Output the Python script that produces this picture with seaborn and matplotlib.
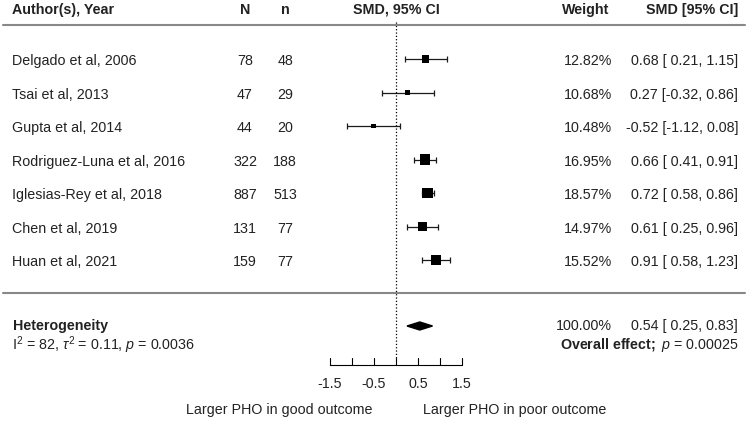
import numpy as np
import pandas as pd
import seaborn as sns
import matplotlib.pyplot as plt

# data
studies = ["Delgado et al, 2006", "Tsai et al, 2013", "Gupta et al, 2014",
           "Rodriguez-Luna et al, 2016", "Iglesias-Rey et al, 2018",
           "Chen et al, 2019", "Huan et al, 2021"]
n_total = [78, 47, 44, 322, 887, 131, 159]
n_poor = [48, 29, 20, 188, 513, 77, 77]
smd = [0.68, 0.27, -0.52, 0.66, 0.72, 0.61, 0.91]
ci_low = [0.21, -0.32, -1.12, 0.41, 0.58, 0.25, 0.58]
ci_high = [1.15, 0.86, 0.08, 0.91, 0.86, 0.96, 1.23]
weights = [12.82, 10.68, 10.48, 16.95, 18.57, 14.97, 15.52]

pooled = [0.54, 0.25, 0.83]
total_weight = 100.00
i2, tau2, p_het, p_overall = 82, 0.11, "0.0036", "0.00025"

ticks = [-1.5, -1, -0.5, 0, 0.5, 1, 1.5]
tick_labels = ["-1.5", "", "-0.5", "", "0.5", "", "1.5"]
side_labels = ["Larger PHO in good outcome", "Larger PHO in poor outcome"]

df = pd.DataFrame({"study": studies, "N": n_total, "n": n_poor, "smd": smd,
                   "lo": ci_low, "hi": ci_high, "weight": weights})
df["row"] = np.arange(len(df))

sns.set_style("white")
plt.rcParams["font.family"] = ["Liberation Sans", "DejaVu Sans"]
plt.rcParams["mathtext.fontset"] = "custom"
plt.rcParams["mathtext.rm"] = "Liberation Sans"
plt.rcParams["mathtext.it"] = "Liberation Sans:italic"
plt.rcParams["mathtext.bf"] = "Liberation Sans:bold"

W, H = 749, 421
fig = plt.figure(figsize=(W / 100, H / 100), dpi=100)
ax = fig.add_axes([0, 0, 1, 1])

txt = "#222222"
fs = 10.3

# study estimates
ax.errorbar(df["smd"], df["row"], xerr=[df["smd"] - df["lo"], df["hi"] - df["smd"]],
            fmt="none", ecolor="#1a1a1a", elinewidth=0.9, capsize=2.2, capthick=0.9, zorder=2)
sns.scatterplot(data=df, x="smd", y="row", size="weight", sizes=(12, 62),
                size_norm=(min(weights), max(weights)), marker="s", color="black",
                linewidth=0, legend=False, ax=ax, zorder=3)

# pooled diamond
yd = 7.97
h = 0.12
ax.fill([pooled[1], pooled[0], pooled[2], pooled[0]], [yd, yd - h, yd, yd + h],
        color="black", zorder=3)

# x axis drawn by hand under the plot
y_axis, y_tick = 9.134, 8.925
ax.plot([ticks[0], ticks[-1]], [y_axis, y_axis], color="black", lw=0.8)
for t, lab in zip(ticks, tick_labels):
    ax.plot([t, t], [y_axis, y_tick], color="black", lw=0.8)
    if lab:
        ax.text(t, 9.70, lab, ha="center", va="center", fontsize=fs, color=txt)

# reference line at zero
ax.plot([0, 0], [-1.1, y_tick], color="black", lw=0.9, ls=":")

# separators
ax.axhline(-1.015, xmin=3 / W, xmax=745 / W, color="#888888", lw=1.5)
ax.axhline(6.985, xmin=3 / W, xmax=745 / W, color="#888888", lw=1.5)

tr = ax.get_yaxis_transform()

# header
yh = -1.463
ax.text(12.5 / W, yh, "Author(s), Year", transform=tr, ha="left", va="center",
        fontsize=fs, fontweight="bold", color=txt)
ax.text(245 / W, yh, "N", transform=tr, ha="center", va="center", fontsize=fs, fontweight="bold", color=txt)
ax.text(285 / W, yh, "n", transform=tr, ha="center", va="center", fontsize=fs, fontweight="bold", color=txt)
ax.text(0, yh, "SMD, 95% CI", ha="center", va="center", fontsize=fs, fontweight="bold", color=txt)
ax.text(586 / W, yh, "Weight", transform=tr, ha="center", va="center", fontsize=fs, fontweight="bold", color=txt)
ax.text(738 / W, yh, "SMD [95% CI]", transform=tr, ha="right", va="center", fontsize=fs, fontweight="bold", color=txt)

# study rows
for _, r in df.iterrows():
    y = r["row"] + 0.06
    ax.text(12.5 / W, y, r["study"], transform=tr, ha="left", va="center", fontsize=fs, color=txt)
    ax.text(245 / W, y, f'{r["N"]}', transform=tr, ha="center", va="center", fontsize=fs, color=txt)
    ax.text(285 / W, y, f'{r["n"]}', transform=tr, ha="center", va="center", fontsize=fs, color=txt)
    ax.text(612 / W, y, f'{r["weight"]:.2f}%', transform=tr, ha="right", va="center", fontsize=fs, color=txt)
    ax.text(738 / W, y, f'{r["smd"]:.2f} [{r["lo"]:5.2f}, {r["hi"]:.2f}]', transform=tr,
            ha="right", va="center", fontsize=fs, color=txt)

# summary
ax.text(12.5 / W, 7.97, "Heterogeneity", transform=tr, ha="left", va="center",
        fontsize=fs, fontweight="bold", color=txt)
ax.text(12.5 / W, 8.54, rf"I$^2$ = {i2}, $\tau^2$ = {tau2}, $p$ = {p_het}", transform=tr,
        ha="left", va="center", fontsize=fs, color=txt)
ax.text(612 / W, 7.97, f"{total_weight:.2f}%", transform=tr, ha="right", va="center", fontsize=fs, color=txt)
ax.text(738 / W, 7.97, f"{pooled[0]:.2f} [{pooled[1]:5.2f}, {pooled[2]:.2f}]", transform=tr,
        ha="right", va="center", fontsize=fs, color=txt)
ax.text(738 / W, 8.54, rf"$\mathbf{{Overall\ effect;}}\ p$ = {p_overall}", transform=tr,
        ha="right", va="center", fontsize=fs, color=txt)

# direction labels
ax.text(372 / W, 10.48, side_labels[0], transform=tr, ha="right", va="center", fontsize=fs, color=txt)
ax.text(423 / W, 10.48, side_labels[1], transform=tr, ha="left", va="center", fontsize=fs, color=txt)

ax.set_xlim(-396 / 44, (W - 396) / 44)
ax.set_ylim((H - 59) / 33.5, -59 / 33.5)
ax.axis("off")

fig.savefig("out.png", dpi=100)
